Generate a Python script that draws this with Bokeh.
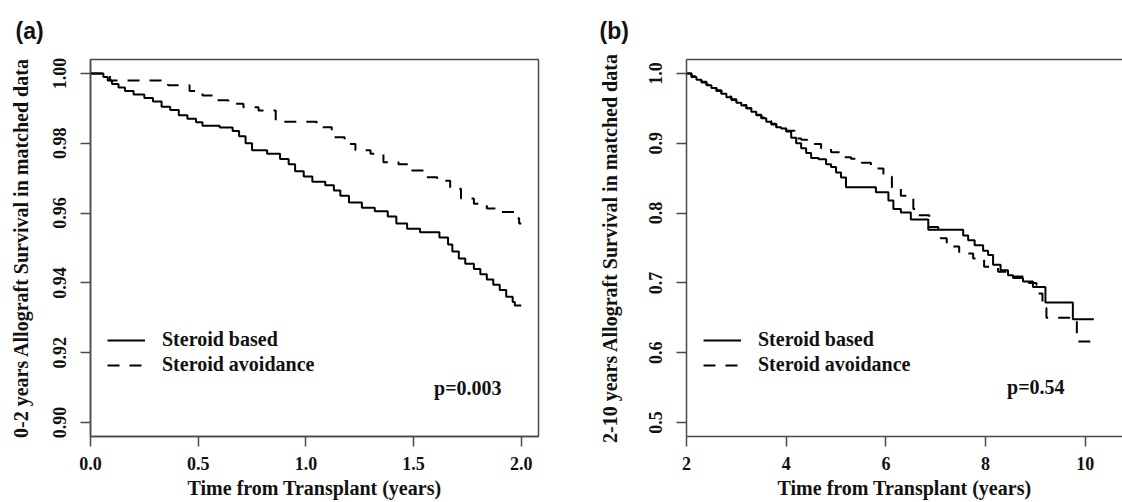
from bokeh.plotting import figure
from bokeh.layouts import row
from bokeh.models import (Range1d, FixedTicker, NumeralTickFormatter, Legend,
                          LegendItem, Label, LinearAxis)
from bokeh.embed import file_html
from bokeh.resources import INLINE

# ---------------- data ----------------
series_names = ["Steroid based", "Steroid avoidance"]

a_based_t = [0.00, 0.06, 0.08, 0.10, 0.13, 0.16, 0.20, 0.25, 0.29, 0.33, 0.37, 0.41, 0.45, 0.49,
             0.52, 0.60, 0.66, 0.69, 0.72, 0.75, 0.82, 0.88, 0.92, 0.95, 0.99, 1.03, 1.09, 1.13,
             1.16, 1.20, 1.26, 1.32, 1.38, 1.42, 1.47, 1.53, 1.62, 1.66, 1.68, 1.71, 1.74, 1.78,
             1.81, 1.84, 1.87, 1.90, 1.93, 1.96, 1.97, 2.00]
a_based_s = [1.000, 0.999, 0.998, 0.997, 0.996, 0.995, 0.994, 0.993, 0.992, 0.9905, 0.9895, 0.988,
             0.987, 0.986, 0.985, 0.9845, 0.9835, 0.982, 0.980, 0.978, 0.977, 0.9755, 0.974, 0.972,
             0.9705, 0.969, 0.968, 0.9665, 0.965, 0.963, 0.9615, 0.9605, 0.959, 0.957, 0.9555,
             0.9545, 0.953, 0.951, 0.949, 0.947, 0.9455, 0.944, 0.9425, 0.941, 0.9395, 0.938,
             0.936, 0.9345, 0.9335, 0.9335]

a_avoid_t = [0.00, 0.09, 0.36, 0.46, 0.52, 0.58, 0.64, 0.71, 0.78, 0.86, 1.05, 1.12, 1.18, 1.23,
             1.30, 1.36, 1.43, 1.49, 1.55, 1.61, 1.67, 1.72, 1.78, 1.84, 1.91, 1.97, 1.99, 2.00]
a_avoid_s = [1.000, 0.998, 0.9966, 0.995, 0.9937, 0.9923, 0.9913, 0.9903, 0.9894, 0.9862, 0.9846,
             0.9817, 0.9798, 0.978, 0.977, 0.9746, 0.974, 0.9722, 0.9703, 0.9693, 0.967, 0.9642,
             0.9627, 0.9613, 0.9603, 0.9585, 0.957, 0.957]

b_based_t = [2.0, 2.1, 2.2, 2.3, 2.4, 2.5, 2.6, 2.7, 2.8, 2.9, 3.0, 3.1, 3.2, 3.3, 3.4, 3.5, 3.6,
             3.7, 3.8, 3.9, 4.0, 4.1, 4.2, 4.3, 4.4, 4.5, 4.65, 4.8, 4.9, 5.0, 5.1, 5.2, 5.8, 6.05,
             6.15, 6.3, 6.5, 6.85, 7.55, 7.65, 7.78, 7.95, 8.05, 8.15, 8.3, 8.45, 8.55, 8.75, 8.95,
             9.2, 9.75, 10.17]
b_based_s = [1.0, 0.995, 0.991, 0.987, 0.983, 0.979, 0.975, 0.971, 0.966, 0.962, 0.958, 0.954,
             0.950, 0.945, 0.940, 0.936, 0.931, 0.927, 0.923, 0.921, 0.917, 0.908, 0.900, 0.893,
             0.886, 0.879, 0.877, 0.870, 0.866, 0.858, 0.851, 0.837, 0.830, 0.818, 0.806, 0.801,
             0.791, 0.776, 0.768, 0.761, 0.754, 0.746, 0.740, 0.726, 0.718, 0.711, 0.707, 0.702,
             0.694, 0.672, 0.648, 0.648]

b_avoid_t = [2.0, 2.1, 2.2, 2.3, 2.4, 2.5, 2.6, 2.7, 2.8, 2.9, 3.0, 3.1, 3.2, 3.3, 3.4, 3.5, 3.6,
             3.7, 3.8, 3.9, 4.0, 4.17, 4.3, 4.42, 4.7, 4.9, 5.1, 5.3, 5.5, 5.7, 5.95, 6.12, 6.3,
             6.55, 6.62, 6.87, 7.05, 7.1, 7.22, 7.47, 7.75, 7.97, 8.25, 8.45, 8.55, 8.87, 9.02,
             9.14, 9.22, 9.83, 10.1]
b_avoid_s = [1.0, 0.996, 0.991, 0.988, 0.984, 0.980, 0.976, 0.971, 0.967, 0.963, 0.959, 0.955,
             0.950, 0.946, 0.941, 0.937, 0.932, 0.928, 0.924, 0.921, 0.918, 0.907, 0.905, 0.899,
             0.893, 0.887, 0.880, 0.878, 0.872, 0.864, 0.852, 0.837, 0.825, 0.806, 0.797, 0.780,
             0.772, 0.764, 0.752, 0.742, 0.735, 0.723, 0.716, 0.712, 0.709, 0.700, 0.685, 0.664,
             0.650, 0.616, 0.616]

a_xticks = [0.0, 0.5, 1.0, 1.5, 2.0]
a_yticks = [0.90, 0.92, 0.94, 0.96, 0.98, 1.00]
b_xticks = [2, 4, 6, 8, 10]
b_yticks = [0.5, 0.6, 0.7, 0.8, 0.9, 1.0]

# ---------------- styling ----------------
SERIF = "Liberation Serif"
SANS = "Liberation Sans"
AX = "#4a4a4a"
TXT = "#111111"


def style_axis(ax, size="18px"):
    ax.axis_line_color = AX
    ax.axis_line_width = 1.5
    ax.major_tick_line_color = AX
    ax.major_tick_line_width = 1.5
    ax.major_tick_out = 10
    ax.major_tick_in = 0
    ax.minor_tick_out = 0
    ax.minor_tick_in = 0
    ax.major_label_text_font = SERIF
    ax.major_label_text_font_style = "bold"
    ax.major_label_text_font_size = size
    ax.major_label_text_color = TXT
    ax.axis_label_text_font = SERIF
    ax.axis_label_text_font_style = "bold"
    ax.axis_label_text_font_size = "20px"
    ax.axis_label_text_color = TXT


def make_panel(tag, width, border_left, border_right, xr, yr, xticks, yticks, xfmt, yfmt,
               ylabel, bt, bs, vt, vs, ptext, px, py, boxed, ylab_standoff, title_offset):
    p = figure(width=width, height=502, x_range=Range1d(*xr), y_range=Range1d(*yr),
               output_backend="svg", toolbar_location=None,
               min_border_left=border_left, min_border_right=border_right,
               min_border_top=59, min_border_bottom=66)
    p.grid.visible = False
    p.background_fill_color = "white"
    p.border_fill_color = "white"

    xa = p.below[0]
    ya = p.left[0]
    style_axis(xa)
    style_axis(ya)
    xa.ticker = FixedTicker(ticks=xticks)
    ya.ticker = FixedTicker(ticks=yticks)
    xa.formatter = NumeralTickFormatter(format=xfmt)
    ya.formatter = NumeralTickFormatter(format=yfmt)
    xa.axis_label = "Time from Transplant (years)"
    ya.axis_label = ylabel
    xa.major_label_standoff = 10
    xa.axis_label_standoff = 4
    ya.major_label_orientation = "vertical"
    ya.major_label_standoff = 14
    ya.axis_label_standoff = ylab_standoff

    if boxed:
        p.outline_line_color = AX
        p.outline_line_width = 1.5
    else:
        p.outline_line_color = None
        top = LinearAxis(ticker=FixedTicker(ticks=[]))
        top.axis_line_color = AX
        top.axis_line_width = 1.5
        top.major_tick_out = 0
        top.minor_tick_out = 0
        top.major_label_standoff = 0
        p.add_layout(top, "above")

    r2 = p.step(vt, vs, mode="after", line_color="black", line_width=2, line_dash="12 10")
    r1 = p.step(bt, bs, mode="after", line_color="black", line_width=2)

    leg = Legend(items=[LegendItem(label=series_names[0], renderers=[r1]),
                        LegendItem(label=series_names[1], renderers=[r2])],
                 location=(17, 60), border_line_color=None, background_fill_alpha=0,
                 padding=0, margin=0, spacing=2, glyph_width=38, glyph_height=20,
                 label_height=20, label_standoff=17, label_text_font=SERIF,
                 label_text_font_style="bold", label_text_font_size="20px",
                 label_text_color=TXT)
    p.add_layout(leg)

    p.add_layout(Label(x=px, y=py, text=ptext, text_font=SERIF, text_font_style="bold",
                       text_font_size="20px", text_color=TXT, text_baseline="middle"))

    p.title.text = tag
    p.title.text_font = SANS
    p.title.text_font_style = "bold"
    p.title.text_font_size = "23px"
    p.title.text_color = TXT
    p.title.align = "left"
    p.title.offset = title_offset
    p.title.standoff = 31
    return p


p1 = make_panel("(a)", 590, 90, 52, (0.0, 2.08), (0.896, 1.004), a_xticks, a_yticks, "0.0", "0.00",
                "0-2 years Allograft Survival in matched data",
                a_based_t, a_based_s, a_avoid_t, a_avoid_s, "p=0.003", 1.595, 0.910, True, 19, -75)
p2 = make_panel("(b)", 532, 96, 0, (2.0, 10.746), (0.48, 1.02), b_xticks, b_yticks, "0", "0.0",
                "2-10 years Allograft Survival in matched data",
                b_based_t, b_based_s, b_avoid_t, b_avoid_s, "p=0.54", 8.43, 0.551, False, 26, -87)

layout = row(p1, p2)
open("out.html", "w").write(file_html(layout, INLINE))
